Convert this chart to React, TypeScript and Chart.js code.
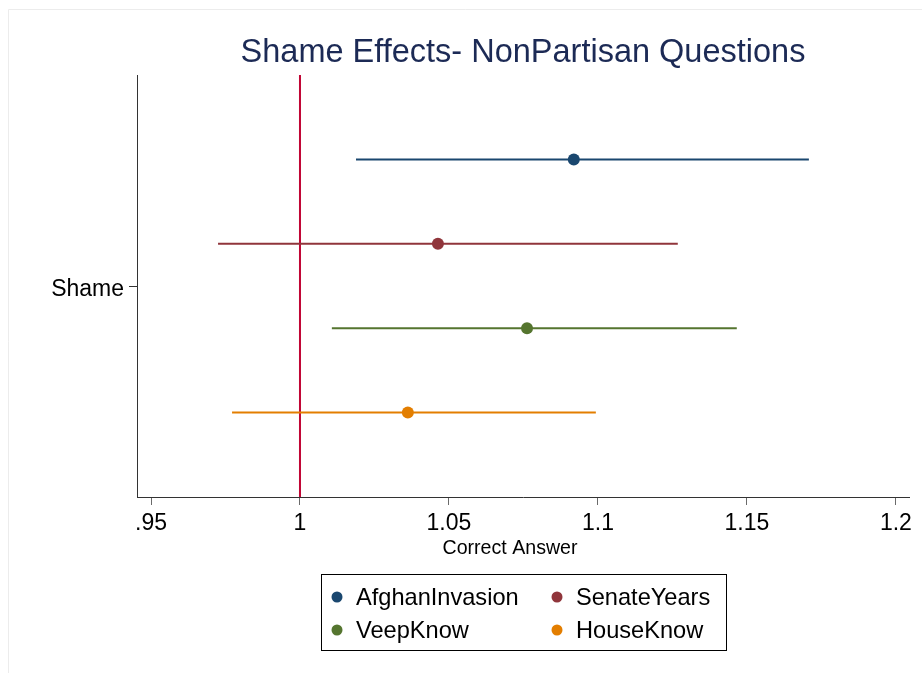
import React, { useEffect, useRef } from "react";
import { Chart, registerables } from "chart.js";

Chart.register(...registerables);

const titleText = "Shame Effects- NonPartisan Questions";
const xAxisTitle = "Correct Answer";
const seriesNames = ["AfghanInvasion", "SenateYears", "VeepKnow", "HouseKnow"];
const estimates = [1.0919, 1.0463, 1.0762, 1.0362];
const lowerCI = [1.0188, 0.9725, 1.0107, 0.9772];
const upperCI = [1.1708, 1.1268, 1.1466, 1.0993];
const rowPositions = [1, 2, 3, 4];
const seriesColors = ["#1a476f", "#90353b", "#55752f", "#e37e00"];
const xTickValues = [0.95, 1, 1.05, 1.1, 1.15, 1.2];
const xTickLabels = [".95", "1", "1.05", "1.1", "1.15", "1.2"];
const yTickValues = [2.5];
const yTickLabels = ["Shame"];
const referenceValue = 1;

const FONT = "'Liberation Sans', Arial, Helvetica, sans-serif";

const decorPlugin = {
  id: "decor",
  beforeDraw(chart: any) {
    const ctx = chart.ctx;
    ctx.save();
    ctx.fillStyle = "#ffffff";
    ctx.fillRect(0, 0, chart.width, chart.height);
    ctx.strokeStyle = "#ececec";
    ctx.lineWidth = 1;
    ctx.beginPath();
    ctx.moveTo(8.5, chart.height);
    ctx.lineTo(8.5, 9.5);
    ctx.lineTo(chart.width, 9.5);
    ctx.stroke();
    ctx.restore();
  },
  afterDraw(chart: any) {
    const ctx = chart.ctx;
    const area = chart.chartArea;
    ctx.save();
    // title
    ctx.fillStyle = "#1c2a55";
    ctx.font = `32.5px ${FONT}`;
    ctx.textAlign = "center";
    ctx.textBaseline = "middle";
    ctx.fillText(titleText, (area.left + area.right) / 2, 53);
    // x axis title
    ctx.fillStyle = "#000000";
    ctx.font = `19.6px ${FONT}`;
    ctx.fillText(xAxisTitle, 510, 549);
    // legend
    const bx = 321, by = 574, bw = 405, bh = 76;
    ctx.strokeStyle = "#000000";
    ctx.lineWidth = 1;
    ctx.strokeRect(bx + 0.5, by + 0.5, bw, bh);
    const colX = [337, 557];
    const textX = [356, 576];
    const rowY = [597, 630];
    ctx.font = `23.6px ${FONT}`;
    ctx.textAlign = "left";
    seriesNames.forEach((name, i) => {
      const c = i % 2;
      const r = Math.floor(i / 2);
      ctx.fillStyle = seriesColors[i];
      ctx.beginPath();
      ctx.arc(colX[c], rowY[r], 5.5, 0, Math.PI * 2);
      ctx.fill();
      ctx.fillStyle = "#000000";
      ctx.fillText(name, textX[c], rowY[r] + 1);
    });
    ctx.restore();
  },
};

export default function App() {
  const canvasRef = useRef<HTMLCanvasElement | null>(null);

  useEffect(() => {
    if (!canvasRef.current) return;
    const datasets: any[] = [
      {
        type: "line",
        label: "ref",
        data: [
          { x: referenceValue, y: 0 },
          { x: referenceValue, y: 5 },
        ],
        borderColor: "#c10534",
        borderWidth: 2,
        pointRadius: 0,
        order: 10,
      },
    ];
    seriesNames.forEach((name, i) => {
      datasets.push({
        type: "line",
        label: name,
        data: [
          { x: lowerCI[i], y: rowPositions[i] },
          { x: estimates[i], y: rowPositions[i] },
          { x: upperCI[i], y: rowPositions[i] },
        ],
        borderColor: seriesColors[i],
        backgroundColor: seriesColors[i],
        borderWidth: 2,
        pointRadius: [0, 6, 0],
        pointBorderWidth: 0,
        pointHoverRadius: [0, 6, 0],
        order: 1,
      });
    });

    const chart = new Chart(canvasRef.current, {
      type: "line",
      data: { datasets },
      plugins: [decorPlugin],
      options: {
        animation: false,
        responsive: false,
        devicePixelRatio: 1,
        layout: { padding: { top: 75, right: 13, bottom: 0, left: 0 } },
        plugins: {
          legend: { display: false },
          tooltip: { enabled: false },
          title: { display: false },
        },
        scales: {
          x: {
            type: "linear",
            min: 0.9453,
            max: 1.2044,
            afterBuildTicks: (scale: any) => {
              scale.ticks = xTickValues.map((v) => ({ value: v }));
            },
            afterFit: (scale: any) => {
              scale.height = 673 - 497;
            },
            ticks: {
              autoSkip: false,
              maxRotation: 0,
              color: "#000000",
              padding: 5,
              font: { family: FONT, size: 23 },
              callback: (v: any) => {
                const idx = xTickValues.findIndex((t) => Math.abs(t - Number(v)) < 1e-9);
                return idx >= 0 ? xTickLabels[idx] : "";
              },
            },
            grid: {
              drawOnChartArea: false,
              drawTicks: true,
              tickLength: 8,
              color: "#6a6a6a",
              lineWidth: 1,
            },
            border: { display: true, color: "#333333", width: 1 },
          },
          y: {
            type: "linear",
            min: 0,
            max: 5,
            reverse: true,
            afterBuildTicks: (scale: any) => {
              scale.ticks = yTickValues.map((v) => ({ value: v }));
            },
            afterFit: (scale: any) => {
              scale.width = 137;
            },
            ticks: {
              autoSkip: false,
              color: "#000000",
              padding: 5,
              labelOffset: 4,
              font: { family: FONT, size: 23 },
              callback: (v: any) => {
                const idx = yTickValues.findIndex((t) => Math.abs(t - Number(v)) < 1e-9);
                return idx >= 0 ? yTickLabels[idx] : "";
              },
            },
            grid: {
              drawOnChartArea: false,
              drawTicks: true,
              tickLength: 8,
              color: "#333333",
              lineWidth: 1,
            },
            border: { display: true, color: "#333333", width: 1 },
          },
        },
      },
    });
    return () => chart.destroy();
  }, []);

  return (
    <div style={{ position: "absolute", left: 0, top: 0, width: 922, height: 673, background: "#fff" }}>
      <canvas ref={canvasRef} width={922} height={673} style={{ width: 922, height: 673, display: "block" }} />
    </div>
  );
}
